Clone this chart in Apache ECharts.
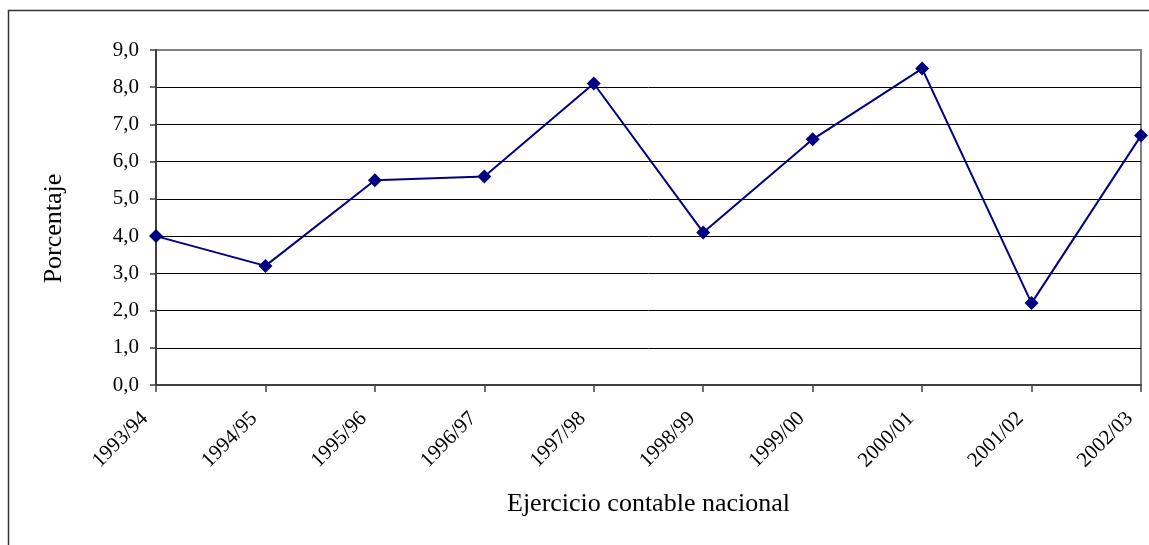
<!DOCTYPE html>
<html>
<head>
<meta charset="utf-8">
<script src="https://cdn.jsdelivr.net/npm/echarts@6/dist/echarts.min.js"></script>
<style>
  html, body { margin: 0; padding: 0; background: #fff; }
  #chart { width: 1149px; height: 545px; }
</style>
</head>
<body>
<div id="chart"></div>
<script>
// ejercicios contables
const categories = ['1993/94', '1994/95', '1995/96', '1996/97', '1997/98', '1998/99', '1999/00', '2000/01', '2001/02', '2002/03']
// porcentaje
const values = [4.0, 3.2, 5.5, 5.6, 8.1, 4.1, 6.6, 8.5, 2.2, 6.7]

const FONT = '"Liberation Serif", "Times New Roman", serif'

const chart = echarts.init(document.getElementById('chart'))
chart.setOption({
  animation: false,
  textStyle: { fontFamily: FONT },
  graphic: [{
    type: 'rect',
    shape: { x: 8.5, y: 10.5, width: 1300, height: 700 },
    style: { fill: 'none', stroke: '#333', lineWidth: 1.5 },
    silent: true
  }],
  grid: {
    left: 156,
    right: 8,
    top: 50,
    bottom: 160,
    show: true,
    borderColor: '#808080',
    borderWidth: 2,
    backgroundColor: 'transparent'
  },
  xAxis: {
    type: 'category',
    data: categories,
    boundaryGap: false,
    name: 'Ejercicio contable nacional',
    nameLocation: 'middle',
    nameGap: 106,
    nameTextStyle: { fontFamily: FONT, fontSize: 26, color: '#000' },
    axisLine: { lineStyle: { color: '#404040', width: 2 } },
    axisTick: { alignWithLabel: true, length: 7, lineStyle: { color: '#404040', width: 1.5 } },
    axisLabel: {
      interval: 0,
      rotate: 45,
      margin: 19,
      padding: [0, 16, 0, 0],
      fontFamily: FONT,
      fontSize: 21,
      color: '#000'
    },
    splitLine: { show: false }
  },
  yAxis: {
    type: 'value',
    min: 0,
    max: 9,
    interval: 1,
    name: 'Porcentaje',
    nameLocation: 'middle',
    nameGap: 89,
    nameTextStyle: { fontFamily: FONT, fontSize: 26, color: '#000', padding: [0, 22, 0, 0] },
    axisLine: { show: true, lineStyle: { color: '#404040', width: 2 } },
    axisTick: { show: true, length: 6, lineStyle: { color: '#404040', width: 1.5 } },
    axisLabel: {
      margin: 17,
      fontFamily: FONT,
      fontSize: 21,
      color: '#000',
      formatter: v => v.toFixed(1).replace('.', ',')
    },
    splitLine: {
      lineStyle: {
        color: ['#000', '#000', '#000', '#000', '#000', '#000', '#000', '#000', '#000', '#808080'],
        width: 1
      }
    }
  },
  series: [{
    type: 'line',
    data: values,
    symbol: 'diamond',
    symbolSize: 14,
    lineStyle: { color: '#000080', width: 2 },
    itemStyle: { color: '#000080' }
  }]
})
</script>
</body>
</html>
